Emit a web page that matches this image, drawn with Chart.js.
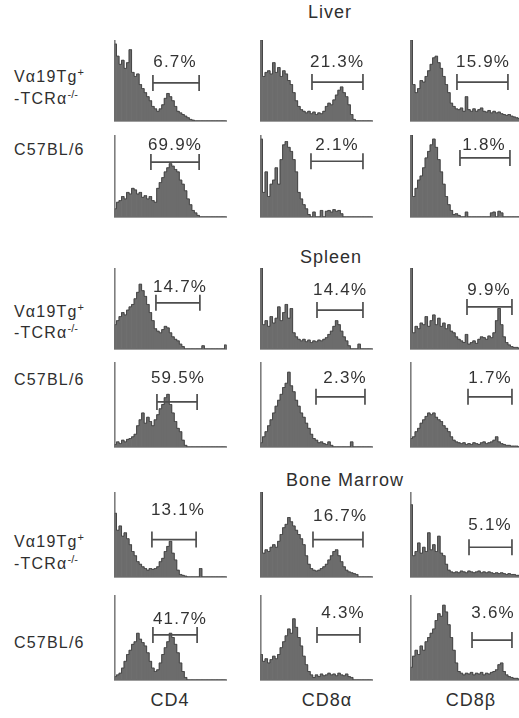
<!DOCTYPE html>
<html>
<head>
<meta charset="utf-8">
<script src="https://cdn.jsdelivr.net/npm/chart.js@4/dist/chart.umd.min.js"></script>
<style>
  html, body { margin: 0; padding: 0; }
  body { width: 519px; height: 718px; overflow: hidden; position: relative; background: #fff;
         font-family: "Liberation Sans", Arial, Helvetica, sans-serif; color: #2f2f2f; }
  canvas { position: absolute; }
  .txt { position: absolute; white-space: nowrap; letter-spacing: 1px; }
  .title { font-size: 18px; transform: translateX(-50%); }
  .row { font-size: 16px; left: 14px; letter-spacing: 1.2px; }
  .row sup { font-size: 11px; vertical-align: 6px; letter-spacing: 0; }
  .marker { font-size: 18px; transform: translateX(-50%); }
</style>
</head>
<body>
<div class="txt title" style="left:330px; top:2px;">Liver</div>
<div class="txt title" style="left:331px; top:247px;">Spleen</div>
<div class="txt title" style="left:345px; top:470px;">Bone Marrow</div>

<div class="txt row" style="top:66px;">Vα19Tg<sup>+</sup></div>
<div class="txt row" style="top:88px;">-TCRα<sup>-/-</sup></div>
<div class="txt row" style="top:141px;">C57BL/6</div>
<div class="txt row" style="top:301px;">Vα19Tg<sup>+</sup></div>
<div class="txt row" style="top:322px;">-TCRα<sup>-/-</sup></div>
<div class="txt row" style="top:371px;">C57BL/6</div>
<div class="txt row" style="top:531px;">Vα19Tg<sup>+</sup></div>
<div class="txt row" style="top:553px;">-TCRα<sup>-/-</sup></div>
<div class="txt row" style="top:634px;">C57BL/6</div>

<div class="txt marker" style="left:170px; top:690px;">CD4</div>
<div class="txt marker" style="left:327px; top:690px;">CD8α</div>
<div class="txt marker" style="left:471px; top:690px;">CD8β</div>

<script>
// Markers stained (columns)
const markers = ['CD4', 'CD8α', 'CD8β'];

// Fluorescence channels (45 bins per histogram)
const channels = Array.from({ length: 45 }, (_, i) => String(i));

// Relative cell counts per channel, Liver
const liverTgCD4  = [95,80,70,75,65,72,88,60,55,58, 45,40,35,30,25,18,15,12,15,20, 28,34,30,25,18,12,10,8,6,4, 2,1,0,0,0,0,0,0,0,0, 0,0,0,0,0];
const liverTgCD8a = [100,55,60,62,58,72,60,66,55,62, 58,50,45,35,25,18,14,12,10,12, 9,11,8,10,9,12,18,22,20,26, 32,38,42,35,30,20,8,2,0,0, 0,0,0,0,0];
const liverTgCD8b = [100,45,35,40,50,48,55,62,70,78, 80,72,65,55,45,35,22,18,15,14, 16,12,30,14,12,15,12,14,16,12, 11,13,10,12,10,11,9,8,7,8, 6,5,4,3,2];
const liverB6CD4  = [10,18,20,25,22,30,28,35,33,28, 30,24,26,22,25,20,18,35,42,48, 55,60,65,62,58,55,45,40,32,22, 15,8,5,2,0,0,0,0,0,0, 0,0,0,0,0];
const liverB6CD8a = [95,30,55,25,40,45,60,40,70,88, 92,85,80,70,55,30,22,15,10,3, 0,6,0,0,8,0,7,8,6,9, 7,8,4,0,0,0,0,0,0,0, 0,0,0,0,0];
const liverB6CD8b = [100,25,35,45,50,60,72,80,88,95, 85,70,55,40,25,15,8,3,4,2, 0,0,6,0,0,0,0,0,0,0, 0,0,5,6,0,7,5,0,0,0, 0,0,0,0,0];

// Spleen
const spleenTgCD4  = [30,35,40,45,42,48,52,55,62,70, 80,72,65,55,45,35,25,22,20,24, 28,26,20,15,12,10,6,3,0,0, 0,0,0,0,0,4,0,0,0,0, 0,0,0,0,5];
const spleenTgCD8a = [100,30,35,28,40,32,38,52,35,45, 55,38,50,20,15,12,10,12,9,11, 8,10,9,11,10,12,14,18,22,28, 35,30,22,15,10,4,0,0,0,6, 0,0,0,0,0];
const spleenTgCD8b = [100,20,28,25,32,30,40,28,35,42, 30,38,28,32,25,30,22,20,15,12, 10,8,18,6,8,10,7,12,15,14, 12,16,14,20,35,50,30,15,8,5, 3,2,2,1,1];
const spleenB6CD4  = [3,6,4,8,6,9,10,12,15,25, 32,40,28,35,30,25,32,38,45,50, 58,62,50,40,30,22,18,8,2,0, 0,0,0,0,0,0,0,0,0,0, 0,0,0,0,0];
const spleenB6CD8a = [5,12,18,25,32,40,48,55,62,70, 75,88,72,65,55,48,40,35,28,22, 15,10,8,5,6,4,3,6,2,0, 0,0,0,0,0,0,6,0,0,0, 0,0,0,0,0];
const spleenB6CD8b = [10,12,18,22,28,32,36,40,38,40, 35,32,30,25,22,18,12,8,6,5, 4,5,3,4,3,5,4,3,5,6, 4,5,6,8,12,6,4,3,2,2, 1,1,1,0,0];

// Bone marrow
const bmTgCD4  = [75,55,60,48,52,45,38,30,25,18, 15,12,10,8,10,9,10,12,18,22, 30,36,42,28,20,8,3,2,1,0, 0,0,0,0,10,0,0,0,0,0, 0,0,0,0,0];
const bmTgCD8a = [100,28,32,30,35,38,35,42,50,58, 62,70,65,60,55,50,45,38,25,15, 10,8,7,8,10,12,15,20,25,30, 32,25,18,12,8,6,5,4,3,0, 0,0,0,0,0];
const bmTgCD8b = [85,25,30,40,28,35,30,52,32,38, 30,48,28,25,15,8,6,5,6,5, 7,6,5,7,6,5,6,7,5,6, 5,6,5,4,5,4,5,4,3,4, 3,3,2,2,2];
const bmB6CD4  = [4,6,8,14,22,30,35,42,45,55, 48,44,40,32,22,14,10,12,20,30, 38,45,55,50,42,32,20,10,3,0, 0,0,0,0,0,0,0,0,0,0, 0,0,0,0,0];
const bmB6CD8a = [30,22,25,20,24,28,25,30,38,45, 52,60,55,72,62,50,40,28,18,10, 6,3,6,4,7,5,6,8,6,7, 5,8,6,5,7,4,3,0,0,0, 0,0,0,0,0];
const bmB6CD8b = [15,28,35,30,40,35,45,50,55,60, 70,78,75,88,80,65,50,35,20,10, 8,6,8,7,9,6,8,7,9,6, 8,7,9,10,12,18,20,10,6,4, 3,2,2,1,1];

// Percent of cells in the positive gate
const pctLiverTg  = ['6.7%', '21.3%', '15.9%'];
const pctLiverB6  = ['69.9%', '2.1%', '1.8%'];
const pctSpleenTg = ['14.7%', '14.4%', '9.9%'];
const pctSpleenB6 = ['59.5%', '2.3%', '1.7%'];
const pctBmTg     = ['13.1%', '16.7%', '5.1%'];
const pctBmB6     = ['41.7%', '4.3%', '3.6%'];

// Positive gate limits, in channels [from, to]
const gateLiverTg  = [[15.5, 33.9], [20.7, 41.0], [18.7, 39.0]];
const gateLiverB6  = [[14.7, 33.9], [20.3, 41.0], [19.9, 39.8]];
const gateSpleenTg = [[16.7, 34.2], [22.7, 41.0], [22.7, 40.6]];
const gateSpleenB6 = [[17.1, 33.1], [22.3, 41.8], [23.1, 40.6]];
const gateBmTg     = [[15.1, 32.7], [21.1, 41.0], [23.5, 40.6]];
const gateBmB6     = [[15.5, 33.1], [22.7, 39.8], [24.7, 40.6]];

// Panel grid: each row is one mouse strain in one organ
const rowsData = [
  { series: [liverTgCD4, liverTgCD8a, liverTgCD8b],    pct: pctLiverTg,  gates: gateLiverTg },
  { series: [liverB6CD4, liverB6CD8a, liverB6CD8b],    pct: pctLiverB6,  gates: gateLiverB6 },
  { series: [spleenTgCD4, spleenTgCD8a, spleenTgCD8b], pct: pctSpleenTg, gates: gateSpleenTg },
  { series: [spleenB6CD4, spleenB6CD8a, spleenB6CD8b], pct: pctSpleenB6, gates: gateSpleenB6 },
  { series: [bmTgCD4, bmTgCD8a, bmTgCD8b],             pct: pctBmTg,     gates: gateBmTg },
  { series: [bmB6CD4, bmB6CD8a, bmB6CD8b],             pct: pctBmB6,     gates: gateBmB6 }
];

// Layout: panel boxes and where the gate bar / percentage sit (y in count units, x in channels)
const rowBoxes = [
  { top: 40, h: 81 }, { top: 135, h: 82 }, { top: 268, h: 81 },
  { top: 362, h: 85 }, { top: 492, h: 85 }, { top: 595, h: 85 }
];
const colLeft = [114, 260, 410];
const panelWidth = 113;
const gateStyle = [
  [[47, 24.3, 72], [48, 30.7, 72], [48, 29.1, 72]],
  [[67, 24.3, 88], [68, 30.7, 88], [72, 29.5, 88]],
  [[57, 26.3, 76], [48, 31.9, 73], [52, 31.5, 73]],
  [[53, 25.5, 81], [59, 33.9, 81], [59, 31.9, 81]],
  [[44, 25.5, 78], [44, 31.9, 71], [35, 31.9, 61]],
  [[53, 26.3, 71], [53, 33.1, 79], [47, 33.1, 79]]
];

// Axes lines, gate bar and percentage label for each histogram
const histDecor = {
  id: 'histDecor',
  beforeDatasetsDraw(chart) {
    const { ctx, chartArea: a } = chart;
    ctx.save();
    ctx.strokeStyle = '#7e7e7e';
    ctx.lineWidth = 1.6;
    ctx.beginPath();
    ctx.moveTo(a.left + 0.8, a.top);
    ctx.lineTo(a.left + 0.8, a.bottom);
    ctx.lineTo(a.right, a.bottom);
    ctx.stroke();
    ctx.restore();
  },
  afterDatasetsDraw(chart, args, opts) {
    const { ctx, scales: { x, y } } = chart;
    const x1 = x.getPixelForValue(opts.from - 0.5);
    const x2 = x.getPixelForValue(opts.to - 0.5);
    const gy = y.getPixelForValue(opts.level);
    ctx.save();
    ctx.strokeStyle = '#4e4e4e';
    ctx.lineWidth = 1.7;
    ctx.beginPath();
    ctx.moveTo(x1, gy); ctx.lineTo(x2, gy);
    ctx.moveTo(x1, gy - 8); ctx.lineTo(x1, gy + 8);
    ctx.moveTo(x2, gy - 8); ctx.lineTo(x2, gy + 8);
    ctx.stroke();
    ctx.fillStyle = '#333';
    ctx.font = '17px "Liberation Sans", Arial, sans-serif';
    if ('letterSpacing' in ctx) ctx.letterSpacing = '1.2px';
    ctx.textAlign = 'center';
    ctx.textBaseline = 'middle';
    ctx.fillText(opts.text, x.getPixelForValue(opts.labelAt - 0.5), y.getPixelForValue(opts.labelLevel));
    ctx.restore();
  }
};

rowsData.forEach((row, r) => {
  row.series.forEach((values, c) => {
    const box = rowBoxes[r];
    const canvas = document.createElement('canvas');
    canvas.width = panelWidth;
    canvas.height = box.h + 2;
    canvas.style.left = colLeft[c] + 'px';
    canvas.style.top = box.top + 'px';
    canvas.style.width = panelWidth + 'px';
    canvas.style.height = (box.h + 2) + 'px';
    canvas.setAttribute('aria-label', markers[c] + ' ' + row.pct[c]);
    document.body.appendChild(canvas);
    const [level, labelAt, labelLevel] = gateStyle[r][c];
    new Chart(canvas, {
      type: 'bar',
      data: {
        labels: channels,
        datasets: [
          { type: 'line', data: values, stepped: 'middle', borderColor: '#474747', borderWidth: 1,
            pointRadius: 0, fill: false, order: 0 },
          { data: values, backgroundColor: '#6c6c6c', borderWidth: 0,
            barPercentage: 1, categoryPercentage: 1, order: 1 }
        ]
      },
      options: {
        responsive: false,
        animation: false,
        devicePixelRatio: 1,
        layout: { padding: { left: 0, right: 0, top: 0, bottom: 2 } },
        plugins: {
          legend: { display: false },
          tooltip: { enabled: false },
          histDecor: { from: row.gates[c][0], to: row.gates[c][1], text: row.pct[c], level, labelAt, labelLevel }
        },
        scales: {
          x: { display: false },
          y: { display: false, min: 0, max: 100 }
        }
      },
      plugins: [histDecor]
    });
  });
});
</script>
</body>
</html>
